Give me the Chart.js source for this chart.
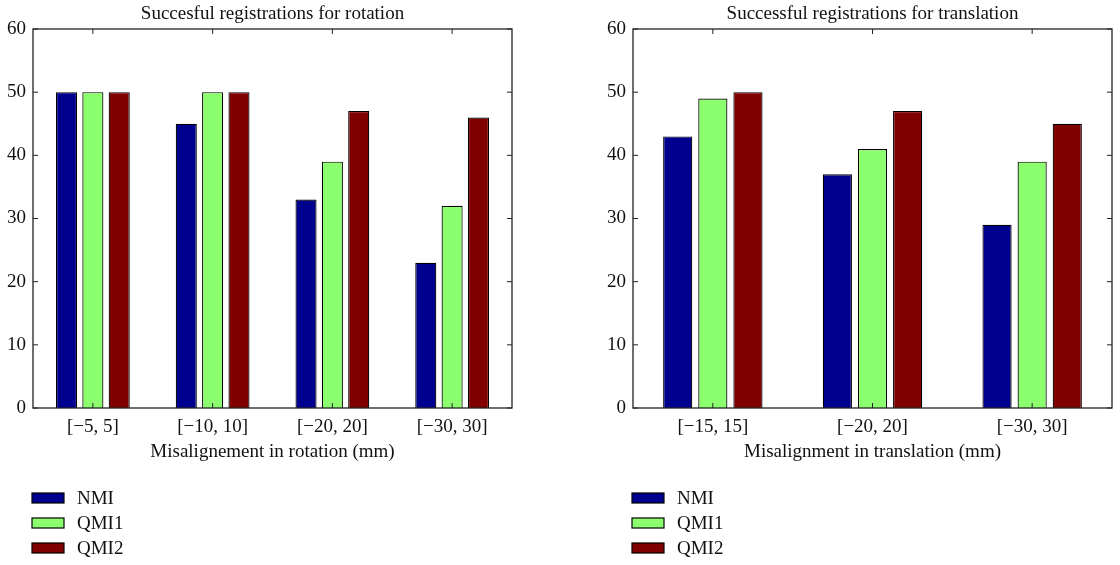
<!DOCTYPE html>
<html>
<head>
<meta charset="utf-8">
<script src="https://cdn.jsdelivr.net/npm/chart.js@4/dist/chart.umd.min.js"></script>
<style>
  html, body { margin: 0; padding: 0; background: #fff; }
  #wrap { position: relative; width: 1120px; height: 565px; }
  .box { position: absolute; top: 0; width: 560px; height: 565px; }
</style>
</head>
<body>
<div id="wrap">
  <div class="box" style="left:0"><canvas id="c1"></canvas></div>
  <div class="box" style="left:560px"><canvas id="c2"></canvas></div>
</div>
<script>
// ---- Data ----
const seriesNames = ['NMI', 'QMI1', 'QMI2'];
const seriesColors = ['#00008f', '#8cff6e', '#800000'];

const rotCategories = ['[\u22125, 5]', '[\u221210, 10]', '[\u221220, 20]', '[\u221230, 30]'];
const rotNMI  = [50, 45, 33, 23];
const rotQMI1 = [50, 50, 39, 32];
const rotQMI2 = [50, 50, 47, 46];

const transCategories = ['[\u221215, 15]', '[\u221220, 20]', '[\u221230, 30]'];
const transNMI  = [43, 37, 29];
const transQMI1 = [49, 41, 39];
const transQMI2 = [50, 47, 45];

const yTicks = [0, 10, 20, 30, 40, 50, 60];

const FONT = 'Liberation Serif';
const FS = 19;

// frame, inward ticks and legend
const framePlugin = {
  id: 'frame',
  afterDraw(chart) {
    const ctx = chart.ctx;
    const a = chart.chartArea;
    const xs = chart.scales.x, ys = chart.scales.y;
    ctx.save();
    ctx.strokeStyle = '#222';
    ctx.lineWidth = 1.3;
    ctx.strokeRect(a.left, a.top, a.right - a.left, a.bottom - a.top);
    ctx.lineWidth = 1;
    const tl = 5;
    ctx.beginPath();
    yTicks.forEach(v => {
      const y = ys.getPixelForValue(v);
      ctx.moveTo(a.left, y); ctx.lineTo(a.left + tl, y);
      ctx.moveTo(a.right, y); ctx.lineTo(a.right - tl, y);
    });
    xs.ticks.forEach((t, i) => {
      const x = xs.getPixelForTick(i);
      ctx.moveTo(x, a.top); ctx.lineTo(x, a.top + tl);
      ctx.moveTo(x, a.bottom); ctx.lineTo(x, a.bottom - tl);
    });
    ctx.stroke();
    // legend
    ctx.font = FS + 'px "' + FONT + '"';
    ctx.textBaseline = 'middle';
    ctx.textAlign = 'left';
    chart.data.datasets.forEach((ds, i) => {
      const cy = a.bottom + 90 + i * 25;
      const x0 = a.left - 1;
      ctx.fillStyle = ds.backgroundColor;
      ctx.fillRect(x0, cy - 5, 32, 10);
      ctx.strokeStyle = '#000';
      ctx.lineWidth = 1.2;
      ctx.strokeRect(x0, cy - 5, 32, 10);
      ctx.fillStyle = '#111';
      ctx.fillText(ds.label, x0 + 45, cy + 1);
    });
    ctx.restore();
  }
};

function makeChart(id, cats, vals, title, xTitle, padLeft, padRight, barPct) {
  return new Chart(document.getElementById(id), {
    type: 'bar',
    data: {
      labels: cats,
      datasets: vals.map((v, i) => ({
        label: seriesNames[i],
        data: v,
        backgroundColor: seriesColors[i],
        borderColor: '#000',
        borderWidth: 1.2,
        categoryPercentage: 0.66,
        barPercentage: barPct
      }))
    },
    options: {
      responsive: true,
      maintainAspectRatio: false,
      animation: false,
      layout: { padding: { left: padLeft, right: padRight, top: 0, bottom: 97 } },
      plugins: {
        legend: { display: false },
        tooltip: { enabled: false },
        title: {
          display: true,
          text: title,
          color: '#111',
          fullSize: false,
          font: { family: FONT, size: FS, weight: 'normal' },
          padding: { top: 3, bottom: 3.2 }
        }
      },
      scales: {
        x: {
          grid: { display: false, drawTicks: false },
          border: { display: false },
          ticks: { color: '#111', font: { family: FONT, size: FS }, padding: 8, maxRotation: 0 },
          title: { display: true, text: xTitle, color: '#111', font: { family: FONT, size: FS }, padding: { top: 0, bottom: 4.6 } },
          afterFit(s) { s.height = 60; }
        },
        y: {
          min: 0, max: 60,
          grid: { display: false, drawTicks: false },
          border: { display: false },
          ticks: { stepSize: 10, color: '#111', font: { family: FONT, size: FS }, padding: 7 },
          afterFit(s) { s.width = 33; }
        }
      }
    },
    plugins: [framePlugin]
  });
}

makeChart('c1', rotCategories, [rotNMI, rotQMI1, rotQMI2],
  'Succesful registrations for rotation', 'Misalignement in rotation (mm)', 0, 48, 0.8);
makeChart('c2', transCategories, [transNMI, transQMI1, transQMI2],
  'Successful registrations for translation', 'Misalignment in translation (mm)', 40, 8, 0.83);
</script>
</body>
</html>
